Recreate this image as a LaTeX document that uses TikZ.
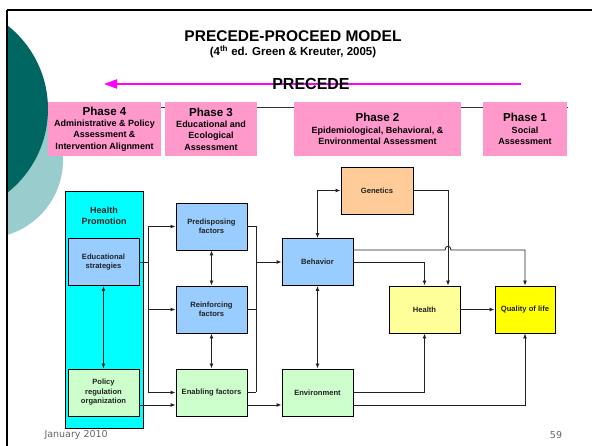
\documentclass[tikz,border=0pt]{standalone}
\usepackage{fontspec}
\setmainfont{Liberation Sans}
\newfontfamily\footfont{DejaVu Sans}
\usetikzlibrary{arrows.meta}
\definecolor{darkteal}{HTML}{006661}
\definecolor{lightteal}{HTML}{99CCCC}
\definecolor{phasepink}{HTML}{FF99CC}
\definecolor{hpcyan}{HTML}{00FFFF}
\definecolor{boxblue}{HTML}{99CCFF}
\definecolor{boxgreen}{HTML}{CCFFCC}
\definecolor{boxorange}{HTML}{FFCC99}
\definecolor{boxpaleyellow}{HTML}{FFFF99}
\definecolor{boxyellow}{HTML}{FFFF00}
\definecolor{arrowmagenta}{HTML}{FF00FF}
\definecolor{linegray}{HTML}{222222}
\newcommand\phasehead[1]{{\fontsize{11.6}{13}\selectfont\bfseries #1}}
\begin{document}
\begin{tikzpicture}[x=1pt,y=-1pt,
  phase/.style={fill=phasepink, draw=none, align=center, inner sep=0pt,
    minimum height=54pt, font=\fontsize{9}{11.3}\selectfont\bfseries},
  factor/.style={draw=black, line width=0.9pt, align=center, inner sep=1pt,
    minimum width=71pt, minimum height=47pt,
    font=\fontsize{7.6}{9.5}\selectfont\bfseries, text=linegray},
  link/.style={draw=linegray, line width=0.9pt},
  arr/.style={link, -{Latex[length=5pt,width=4pt]}},
  dblarr/.style={link, {Latex[length=5pt,width=4pt]}-{Latex[length=5pt,width=4pt]}},
  foot/.style={font=\footfont\fontsize{9.5}{11}\selectfont, text=black!60}
]
\useasboundingbox (0,0) rectangle (592,446);
\fill[white] (0,0) rectangle (592,446);

% slide decoration: two overlapping discs inside the frame
\begin{scope}
  \clip (7,10) rectangle (592,446);
  \fill[lightteal] (-15.2,160) circle[radius=78.2];
  \fill[darkteal] (-58.5,109) circle[radius=106.5];
\end{scope}
\draw[line width=2.2pt] (7,10) -- (592,10);
\draw[line width=2.2pt] (7,10) -- (7,446);

% title
\node[font=\fontsize{15.5}{18}\selectfont\bfseries] (title) at (293,36) {PRECEDE-PROCEED MODEL};
\node[font=\fontsize{11.5}{13}\selectfont\bfseries] (subtitle) at (293,51.5) {(4\textsuperscript{th} ed. Green \& Kreuter, 2005)};

% PRECEDE direction arrow
\coordinate (precR) at (521,84);
\coordinate (precL) at (104,84);
\draw[arrowmagenta, line width=2pt, -{Triangle[length=13pt,width=9pt]}] (precR) -- (precL);
\node[font=\fontsize{16}{18}\selectfont\bfseries, inner sep=0pt] (prec) at (311,84) {PRECEDE};

% rule behind the phase boxes
\coordinate (ruleL) at (48,107);
\coordinate (ruleR) at (568,107);
\draw[line width=0.8pt, black!80] (ruleL) -- (ruleR);

% phase boxes
\node[phase, minimum width=113pt] (ph4) at (104.5,129)
  {\phasehead{Phase 4}\\Administrative \& Policy\\Assessment \&\\Intervention Alignment};
\node[phase, minimum width=92pt] (ph3) at (211,129)
  {\phasehead{Phase 3}\\Educational and\\Ecological\\Assessment};
\node[phase, minimum width=167pt] (ph2) at (377.5,129)
  {\phasehead{Phase 2}\\Epidemiological, Behavioral, \&\\Environmental Assessment};
\node[phase, minimum width=84pt] (ph1) at (525,129)
  {\phasehead{Phase 1}\\Social\\Assessment};

% health promotion column
\node[draw=black, line width=0.9pt, fill=hpcyan, minimum width=78pt, minimum height=237pt, inner sep=0pt] (hp) at (104,309.5) {};
\node[font=\fontsize{9}{11}\selectfont\bfseries, text=linegray, align=center] (hpt) at (104,215.5) {Health\\Promotion};
\node[factor, fill=boxblue] (edu) at (103.5,262) {Educational\\strategies};
\node[factor, fill=boxgreen] (pol) at (103.5,392.5) {Policy\\regulation\\organization};

% factor boxes
\node[factor, fill=boxblue] (pre) at (211.5,226.5) {Predisposing\\factors};
\node[factor, fill=boxblue] (rei) at (211.5,309.5) {Reinforcing\\factors};
\node[factor, fill=boxgreen] (ena) at (211.5,392.5) {Enabling factors};
\node[factor, fill=boxblue] (beh) at (317.5,262) {Behavior};
\node[factor, fill=boxgreen] (env) at (317.5,392.5) {Environment};
\node[factor, fill=boxorange, minimum width=72pt] (gen) at (377,190.5) {Genetics};
\node[factor, fill=boxpaleyellow] (hea) at (424.5,309.5) {Health};
\node[factor, fill=boxyellow, minimum width=60pt] (qol) at (525,309.5) {Quality of life};

% bus lines
\coordinate (busL) at (148,0);
\coordinate (busR) at (256,0);
\coordinate (lowRow) at (0,405);
\coordinate (genBus) at (448,0);
\coordinate (behHigh) at (0,250);

% health promotion to factors
\draw[link] (edu.east) -- (edu.east -| busL);
\draw[link] (pre.west -| busL) -- (ena.west -| busL);
\draw[arr] (pre.west -| busL) -- (pre.west);
\draw[arr] (rei.west -| busL) -- (rei.west);
\draw[arr] (ena.west -| busL) -- (ena.west);
\draw[arr] (pol.east |- lowRow) -- (ena.west |- lowRow);
\draw[dblarr] (edu.south) -- (pol.north);

% between factors
\draw[dblarr] (pre.south) -- (rei.north);
\draw[dblarr] (rei.south) -- (ena.north);

% factors to behaviour and environment
\draw[link] (pre.east) -- (pre.east -| busR);
\draw[link] (rei.east) -- (rei.east -| busR);
\draw[link] (ena.east) -- (ena.east -| busR);
\draw[link] (pre.east -| busR) -- (ena.east -| busR);
\draw[arr] (beh.west -| busR) -- (beh.west);
\draw[arr] (ena.east |- lowRow) -- (env.west |- lowRow);
\draw[dblarr] (beh.south) -- (env.north);

% genetics
\draw[dblarr] (gen.west) -| (beh.north);
\draw[arr] (gen.east) -| (hea.north -| genBus);

% behaviour to health and quality of life (hop over the genetics line)
\draw[link, -{Latex[length=5pt,width=4pt]}] (beh.east |- behHigh) -- ([xshift=-3pt]genBus |- behHigh)
  .. controls ([xshift=-3pt,yshift=5pt]genBus |- behHigh) and ([xshift=3pt,yshift=5pt]genBus |- behHigh) .. ([xshift=3pt]genBus |- behHigh)
  -| (qol.north);
\draw[arr] (beh.east) -| (hea.north);

% health to quality of life, environment upward
\draw[arr] (hea.east) -- (qol.west);
\draw[arr] (env.east) -| (hea.south);
\draw[arr] (env.east |- lowRow) -| (qol.south);

% footer
\node[foot, anchor=west] (date) at (41,435) {January 2010};
\node[foot] (page) at (556,435) {59};
\end{tikzpicture}
\end{document}
